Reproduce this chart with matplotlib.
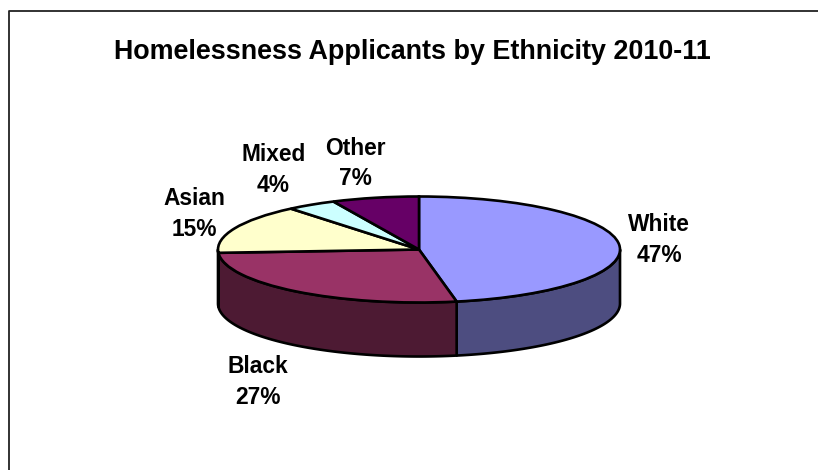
import numpy as np
import matplotlib
matplotlib.use("Agg")
import matplotlib.pyplot as plt
from matplotlib.patches import Polygon

# Homelessness applicants by ethnicity, 2010-11
categories = ["White", "Black", "Asian", "Mixed", "Other"]
percentages = [47, 27, 15, 4, 7]
top_colors = ["#9999FF", "#993366", "#FFFFCC", "#CCFFFF", "#660066"]
wall_colors = ["#4D4D80", "#4D1A33", "#808066", "#668080", "#330033"]
title_text = "Homelessness Applicants by Ethnicity 2010-11"

W, H = 818, 470
CX, CY, RX, RY = 419, 249.5, 201, 53
DEPTH = 54 / RY
LINE = 1.9

plt.rcParams["font.family"] = ["Liberation Sans", "DejaVu Sans"]
plt.rcParams["font.weight"] = "bold"

fig = plt.figure(figsize=(W / 100, H / 100), dpi=100, facecolor="white")

# Outer chart frame, running off the right and bottom of the canvas
frame = fig.add_axes([0, 0, 1, 1], zorder=0)
frame.set_xlim(0, W)
frame.set_ylim(H, 0)
frame.axis("off")
frame.plot([8.5, 8.5, W + 5], [H + 5, 11, 11], color="#222222", lw=1.3, clip_on=False)

# Pie top: a unit circle squashed into an ellipse by a non-square axes
ax = fig.add_axes([(CX - RX) / W, 1 - (CY + RY) / H, 2 * RX / W, 2 * RY / H], zorder=1)
ax.pie(percentages, colors=top_colors, startangle=90, counterclock=False, radius=1,
       wedgeprops=dict(edgecolor="black", linewidth=LINE, zorder=3))
ax.set_aspect("auto")
ax.set_xlim(-1, 1)
ax.set_ylim(-1, 1)
for w in ax.patches:
    w.set_clip_on(False)

# Side wall: only the part of each slice on the front half of the rim shows
bounds = np.cumsum([0] + percentages) / sum(percentages) * 2 * np.pi
for i, color in enumerate(wall_colors):
    a0, a1 = bounds[i], bounds[i + 1]
    lo, hi = max(a0, np.pi / 2), min(a1, 3 * np.pi / 2)
    if hi <= lo:
        continue
    t = np.linspace(lo, hi, 120)
    x, y = np.sin(t), np.cos(t)
    pts = np.r_[np.c_[x, y], np.c_[x, y - DEPTH][::-1]]
    ax.add_patch(Polygon(pts, closed=True, facecolor=color, edgecolor="black",
                         linewidth=LINE, joinstyle="round", clip_on=False, zorder=2))

# Title and slice labels
fig.text(412 / W, 1 - 52 / H, title_text, ha="center", va="center", fontsize=19.4,
         fontweight="bold", color="black")
label_xy = [(659, 240), (258, 382), (194, 214), (273.5, 170), (355, 163.5)]
for name, pct, (lx, ly) in zip(categories, percentages, label_xy):
    fig.text(lx / W, 1 - ly / H, f"{name}\n{pct}%", ha="center", va="center",
             fontsize=16.4, fontweight="bold", color="black", linespacing=1.43)

fig.savefig("out.png", dpi=100)
